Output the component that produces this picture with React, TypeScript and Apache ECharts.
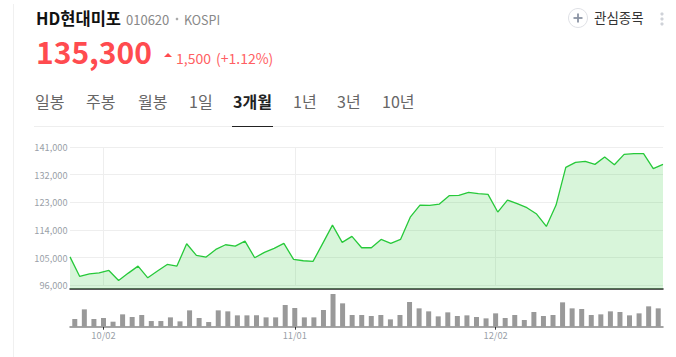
import React, { useEffect, useRef } from "react";
import * as echarts from "echarts";

const FONT = '"Noto Sans CJK KR", "Noto Sans", sans-serif';
const dates = Array.from({ length: 62 }, (_, i) =>
  i === 3 ? "10/02" : i === 23 ? "11/01" : i === 44 ? "12/02" : "d" + i
);
const labelledIndexes = [3, 23, 44];
const yTicks = [96000, 105000, 114000, 123000, 132000, 141000];
const prices = [
  105300, 98940, 99800, 100130, 100890, 97640, 100025, 102300, 98500, 100680,
  102840, 102300, 109560, 105770, 105230, 107720, 109240, 108800, 110430, 105010,
  106750, 108050, 109670, 104470, 104040, 103820, 109670, 115630, 110000, 111950,
  108260, 108260, 110970, 109670, 110970, 118200, 122100, 122000, 122460, 125170,
  125280, 126260, 125820, 125600, 119860, 123760, 122570, 121270, 119210, 115200,
  122140, 134390, 136010, 136340, 135360, 137750, 135250, 138600, 138830, 138830,
  133950, 135360,
];
const volumes = [
  23, 52, 23, 26, 15, 37, 29, 35, 17, 17, 28, 16, 49, 26, 14, 49, 46, 34, 34, 34,
  28, 28, 65, 56, 28, 28, 50, 98, 70, 35,
  35, 32, 35, 22, 35, 74, 55, 46, 31, 43, 32, 34, 29, 25, 40, 26, 35, 20, 44, 32,
  35, 73, 55, 53, 35, 37, 46, 44, 34, 40, 61, 55,
];
const tabs: [string, number][] = [
  ["일봉", 35], ["주봉", 86], ["월봉", 138], ["1일", 189], ["3개월", 233],
  ["1년", 293], ["3년", 337], ["10년", 382],
];

const txt = (text: string, x: number, y: number, size: number, fill: string, weight: any = "normal") => ({
  type: "text", x, y,
  style: { text, fontSize: size, fill, fontWeight: weight, fontFamily: FONT, verticalAlign: "middle", align: "left" },
});

export default function App() {
  const ref = useRef<HTMLDivElement>(null);
  useEffect(() => {
    const chart = echarts.init(ref.current!, null, { renderer: "svg" });
    chart.setOption({
      animation: false,
      backgroundColor: "#fff",
      grid: [
        { left: 70, width: 593, top: 147, height: 138.4 },
        { left: 70, width: 593, top: 147, height: 142 },
        { left: 70, width: 593, top: 290, height: 36.7 },
      ],
      xAxis: [
        {
          gridIndex: 0, type: "category", data: dates, boundaryGap: true,
          axisLine: { show: false }, axisTick: { show: false }, axisLabel: { show: false },
          splitLine: { show: true, alignWithLabel: true, interval: (i: number) => labelledIndexes.includes(i), lineStyle: { color: "#eeeeee", width: 1 } },
        },
        {
          gridIndex: 1, type: "category", data: dates, boundaryGap: false,
          axisLine: { show: true, lineStyle: { color: "#222", width: 1.5 } },
          axisTick: { show: false }, axisLabel: { show: false }, splitLine: { show: false },
        },
        {
          gridIndex: 2, type: "category", data: dates, boundaryGap: true,
          axisLine: { show: true, lineStyle: { color: "#888", width: 1.5 } },
          axisTick: { show: true, alignWithLabel: true, length: 3, interval: (i: number) => labelledIndexes.includes(i), lineStyle: { color: "#333", width: 1 } },
          axisLabel: {
            show: true, interval: (i: number) => labelledIndexes.includes(i), color: "#9a9fa8", fontSize: 9.3, fontFamily: FONT, margin: 4,
            formatter: (v: string) => v,
          },
          splitLine: { show: false },
        },
      ],
      yAxis: [
        {
          gridIndex: 0, type: "value", min: 96000, max: 141000,
          axisLine: { show: false },
          axisTick: { show: false, customValues: yTicks },
          axisLabel: {
            show: true, customValues: yTicks, color: "#9a9fa8", fontSize: 9.2, fontFamily: FONT, margin: 2.5,
            padding: [0, 0, 2, 0],
            formatter: (v: number) => v.toLocaleString("en-US"),
          },
          splitLine: { show: true, lineStyle: { color: "#eeeeee", width: 1 } },
        },
        {
          gridIndex: 1, type: "value", min: 94860, max: 141000, show: false,
          splitLine: { show: false },
        },
        {
          gridIndex: 2, type: "value", min: 0, max: 110, show: false,
          splitLine: { show: false },
        },
      ],
      series: [
        {
          type: "line", xAxisIndex: 1, yAxisIndex: 1, data: prices, symbol: "none",
          lineStyle: { color: "#27c93a", width: 1.3 },
          areaStyle: { color: "rgba(60,205,70,0.2)", origin: "start", opacity: 1 },
        },
        {
          type: "bar", xAxisIndex: 2, yAxisIndex: 2, data: volumes, barWidth: 5,
          itemStyle: { color: "#999999" },
        },
      ],
      graphic: [
        { type: "line", shape: { x1: 13.5, y1: 4, x2: 13.5, y2: 357 }, style: { stroke: "#f0f0f0", lineWidth: 1 } },
        { type: "line", shape: { x1: 34, y1: 126.5, x2: 664, y2: 126.5 }, style: { stroke: "#eeeeee", lineWidth: 1 } },
        { type: "line", shape: { x1: 232, y1: 126.5, x2: 273, y2: 126.5 }, style: { stroke: "#222", lineWidth: 1 } },
        txt("HD현대미포", 36, 18, 16.5, "#111", "bold"),
        txt("010620", 126, 19, 13, "#888"),
        { type: "circle", shape: { cx: 177, cy: 19, r: 1.3 }, style: { fill: "#aaa" } },
        txt("KOSPI", 184, 19, 12.5, "#888"),
        txt("135,300", 36, 51, 30, "#ff4b4f", "bold"),
        { type: "polygon", shape: { points: [[164, 57], [172, 57], [168, 53]] }, style: { fill: "#ff4b4f" } },
        txt("1,500", 176, 58, 14, "#ff5f63"),
        txt("(+1.12%)", 216, 58, 14, "#ff5f63"),
        ...tabs.map(([t, x]) => txt(t, x, 101, 16, t === "3개월" ? "#222" : "#666", t === "3개월" ? "bold" : "normal")),
        { type: "circle", shape: { cx: 578, cy: 18, r: 9.5 }, style: { fill: "#fff", stroke: "#dfe1e6", lineWidth: 1 } },
        { type: "line", shape: { x1: 573.5, y1: 18, x2: 582.5, y2: 18 }, style: { stroke: "#8b93a3", lineWidth: 1.8 } },
        { type: "line", shape: { x1: 578, y1: 13.5, x2: 578, y2: 22.5 }, style: { stroke: "#8b93a3", lineWidth: 1.8 } },
        txt("관심종목", 594, 17, 13.5, "#333"),
        { type: "circle", shape: { cx: 662, cy: 14, r: 1.6 }, style: { fill: "#cfd2d8" } },
        { type: "circle", shape: { cx: 662, cy: 19, r: 1.6 }, style: { fill: "#cfd2d8" } },
        { type: "circle", shape: { cx: 662, cy: 24, r: 1.6 }, style: { fill: "#cfd2d8" } },
      ],
    });
    return () => chart.dispose();
  }, []);
  return <div ref={ref} style={{ position: "fixed", left: 0, top: 0, width: 676, height: 357 }} />;
}
